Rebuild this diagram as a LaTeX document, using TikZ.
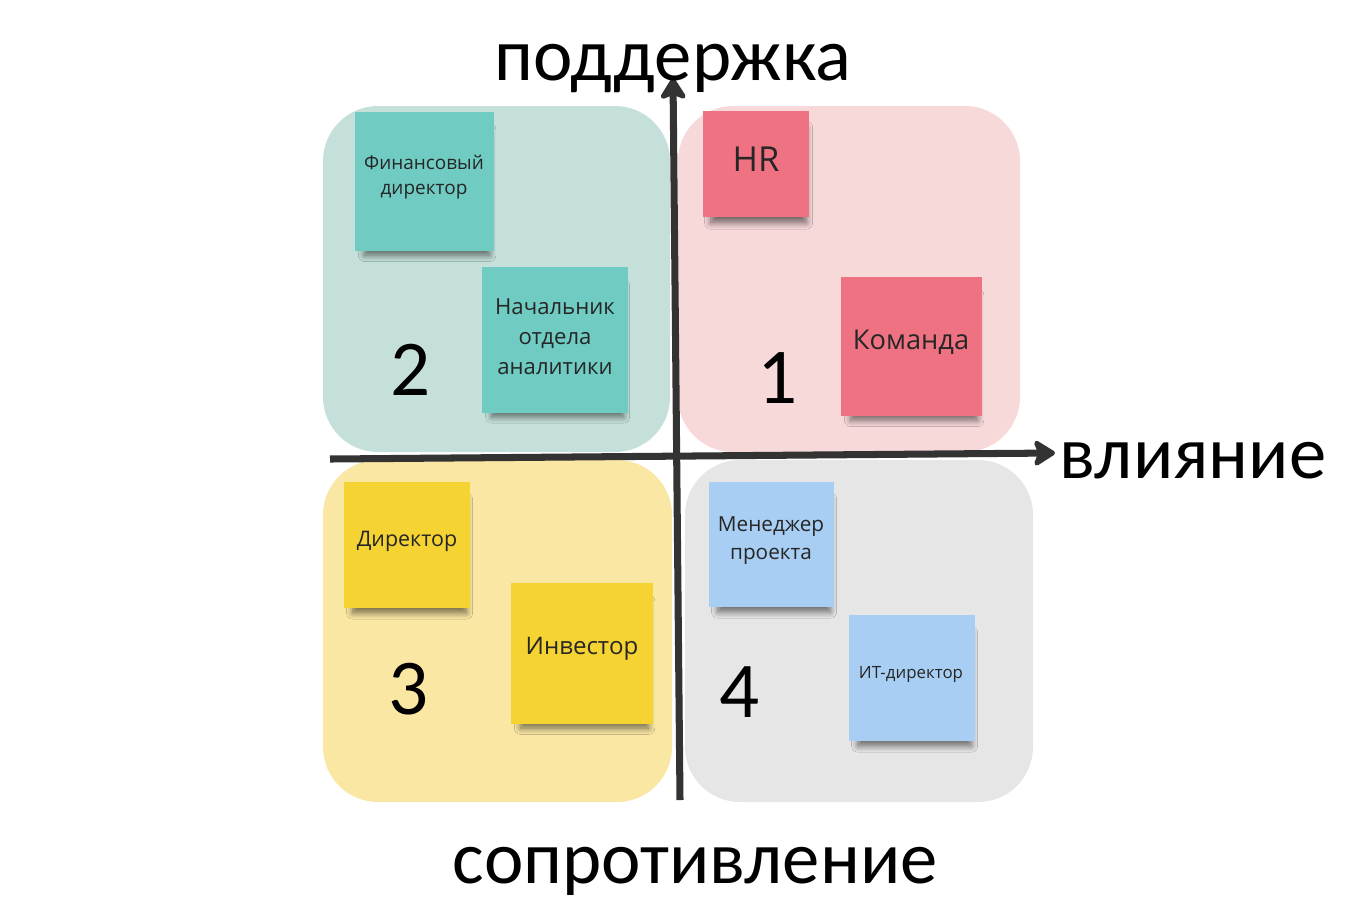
\documentclass[tikz,border=0pt]{standalone}
\usepackage{fontspec}
\setmainfont{Carlito}
\newfontfamily\stickyfont{Open Sans}
\usetikzlibrary{arrows.meta,shadows.blur}
\definecolor{axisgray}{HTML}{333333}
\definecolor{bgteal}{HTML}{C5E0DA}
\definecolor{bgpink}{HTML}{F8D9DA}
\definecolor{bgyellow}{HTML}{FAE7A3}
\definecolor{bggray}{HTML}{E6E6E6}
\definecolor{stteal}{HTML}{70CCC3}
\definecolor{stpink}{HTML}{EF7283}
\definecolor{styellow}{HTML}{F5D333}
\definecolor{stblue}{HTML}{A9CEF3}
\tikzset{
  quadrant/.style={rounded corners=1.1cm},
  sticky/.style={anchor=north west, inner sep=0pt,
    blur shadow={shadow xshift=0.05cm, shadow yshift=-0.24cm, shadow scale=0.9,
      shadow opacity=55, shadow blur radius=0.14cm, shadow blur steps=10}},
  stickytext/.style={font=\stickyfont, text=black!85, align=center, inner sep=0pt},
  number/.style={font=\fontsize{45}{50}\selectfont},
  axislabel/.style={font=\fontsize{42.5}{50}\selectfont, anchor=base},
  axis/.style={axisgray, line width=4pt, -{Stealth[length=0.5cm, width=0.62cm, inset=0.12cm, round]}}
}
\begin{document}
\begin{tikzpicture}[x=0.02cm, y=-0.02cm]
  \useasboundingbox (0,0) rectangle (1369,904);
  % quadrants
  \fill[quadrant, bgteal] (323,106) rectangle (670,452);
  \fill[quadrant, bgpink] (678,106) rectangle (1020,452);
  \fill[quadrant, bgyellow] (323,460) rectangle (672,802);
  \fill[quadrant, bggray] (685,460) rectangle (1033,802);
  % stickies
  \node[sticky, fill=stteal, minimum width=2.78cm, minimum height=2.78cm] (fin) at (355,112) {};
  \node[sticky, fill=stteal, minimum width=2.92cm, minimum height=2.92cm] (nach) at (482,267) {};
  \node[sticky, fill=stpink, minimum width=2.12cm, minimum height=2.12cm] (hr) at (703,111) {};
  \node[sticky, fill=stpink, minimum width=2.82cm, minimum height=2.78cm] (kom) at (841,277) {};
  \node[sticky, fill=styellow, minimum width=2.52cm, minimum height=2.52cm] (dir) at (344,482) {};
  \node[sticky, fill=styellow, minimum width=2.84cm, minimum height=2.82cm] (inv) at (511,583) {};
  \node[sticky, fill=stblue, minimum width=2.5cm, minimum height=2.5cm] (men) at (709,482) {};
  \node[sticky, fill=stblue, minimum width=2.52cm, minimum height=2.52cm] (it) at (849,615) {};
  \node[stickytext, font=\stickyfont\fontsize{10.8}{14}\selectfont] (fin text) at (424,177) {Финансовый\\директор};
  \node[stickytext, font=\stickyfont\fontsize{12.6}{17}\selectfont] (nach text) at (555,337) {Начальник\\отдела\\аналитики};
  \node[stickytext, font=\stickyfont\fontsize{19.6}{22}\selectfont] (hr text) at (756,159) {HR};
  \node[stickytext, font=\stickyfont\fontsize{15.5}{18}\selectfont] (kom text) at (911,342) {Команда};
  \node[stickytext, font=\stickyfont\fontsize{12.2}{15}\selectfont] (dir text) at (407,541) {Директор};
  \node[stickytext, font=\stickyfont\fontsize{13.7}{16}\selectfont] (inv text) at (582,649) {Инвестор};
  \node[stickytext, font=\stickyfont\fontsize{11.8}{16}\selectfont] (men text) at (771,541) {Менеджер\\проекта};
  \node[stickytext, font=\stickyfont\fontsize{9.6}{12}\selectfont] (it text) at (911,674) {ИТ-директор};
  % numbers
  \node[number] (n1) at (778,378) {1};
  \node[number] (n2) at (411,370) {2};
  \node[number] (n3) at (409,689) {3};
  \node[number] (n4) at (740,692) {4};
  % axes
  \coordinate (vbottom) at (680,800);
  \coordinate (vtop) at (673,78);
  \coordinate (hleft) at (330,459);
  \coordinate (hright) at (1055,453);
  \draw[axis] (vbottom) -- (vtop);
  \draw[axis] (hleft) -- (hright);
  % labels
  \node[axislabel] (support) at (673,80) {поддержка};
  \node[axislabel] (influence) at (1193,478) {влияние};
  \node[axislabel] (resist) at (695,883) {сопротивление};
\end{tikzpicture}
\end{document}
